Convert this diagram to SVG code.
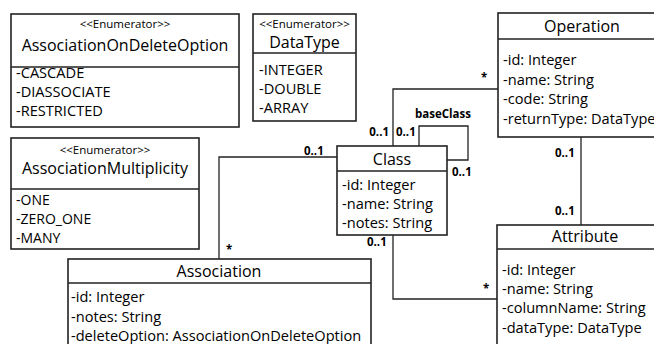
<svg xmlns="http://www.w3.org/2000/svg" width="654" height="344" viewBox="0 0 654 344">
  <style>
    .box { fill: #ffffff; stroke: #222222; stroke-width: 1.6; }
    .div { stroke: #222222; stroke-width: 1.6; }
    .wire { fill: none; stroke: #222222; stroke-width: 1.3; }
    text { font-family: "Open Sans", "Noto Sans", "DejaVu Sans", sans-serif; fill: #000000; }
    .stereo { font-size: 11.5px; text-anchor: middle; }
    .title { font-size: 16px; text-anchor: middle; }
    .item { font-size: 14.6px; }
    .tight { font-size: 14px; }
    .mult { font-size: 11.5px; font-weight: bold; }
  </style>

  <rect width="654" height="344" fill="#ffffff"/>

  <!-- connectors -->
  <g id="connectors">
    <!-- Class to Operation -->
    <polyline class="wire" points="393,146 393,89 498,89"/>
    <text class="mult" x="389" y="136" text-anchor="end">0..1</text>
    <text class="mult" x="481" y="82">*</text>
    <!-- Class self association -->
    <polyline class="wire" points="419,146 419,126 468,126 468,160 447,160"/>
    <text class="mult" x="443" y="118" text-anchor="middle">baseClass</text>
    <text class="mult" x="396" y="136">0..1</text>
    <text class="mult" x="452" y="176">0..1</text>
    <!-- Class to Association -->
    <polyline class="wire" points="337,157 219,157 219,259"/>
    <text class="mult" x="304" y="155">0..1</text>
    <text class="mult" x="226" y="254">*</text>
    <!-- Operation to Attribute -->
    <line class="wire" x1="581" y1="137" x2="581" y2="225"/>
    <text class="mult" x="555" y="157">0..1</text>
    <text class="mult" x="555" y="215">0..1</text>
    <!-- Class to Attribute -->
    <polyline class="wire" points="393,235 393,299 497,299"/>
    <text class="mult" x="367" y="246">0..1</text>
    <text class="mult" x="483" y="293">*</text>
  </g>

  <g id="AssociationOnDeleteOption">
    <rect class="box" x="11" y="14" width="228" height="113"/>
    <line class="div" x1="11" y1="67" x2="239" y2="67"/>
    <text class="stereo" x="125" y="28">&lt;&lt;Enumerator&gt;&gt;</text>
    <text class="title" x="125" y="51">AssociationOnDeleteOption</text>
    <text class="item" x="16" y="78">-CASCADE</text>
    <text class="item" x="16" y="97">-DIASSOCIATE</text>
    <text class="item" x="16" y="116">-RESTRICTED</text>
  </g>

  <g id="DataType">
    <rect class="box" x="253" y="14" width="103" height="107"/>
    <line class="div" x1="253" y1="53" x2="356" y2="53"/>
    <text class="stereo" x="304.5" y="28">&lt;&lt;Enumerator&gt;&gt;</text>
    <text class="title" x="304.5" y="48">DataType</text>
    <text class="item" x="259" y="75">-INTEGER</text>
    <text class="item" x="259" y="94">-DOUBLE</text>
    <text class="item" x="259" y="113">-ARRAY</text>
  </g>

  <g id="Operation">
    <rect class="box" x="498" y="13" width="170" height="124"/>
    <line class="div" x1="498" y1="39" x2="668" y2="39"/>
    <text class="title" x="582" y="32">Operation</text>
    <text class="item" x="503" y="65">-id: Integer</text>
    <text class="item" x="503" y="85">-name: String</text>
    <text class="item" x="503" y="104">-code: String</text>
    <text class="item" x="503" y="124">-returnType: DataType</text>
  </g>

  <g id="AssociationMultiplicity">
    <rect class="box" x="11" y="138" width="188" height="111"/>
    <line class="div" x1="11" y1="189" x2="199" y2="189"/>
    <text class="stereo" x="105" y="154">&lt;&lt;Enumerator&gt;&gt;</text>
    <text class="title" x="105" y="174">AssociationMultiplicity</text>
    <text class="tight" x="16" y="205">-ONE</text>
    <text class="tight" x="16" y="224">-ZERO_ONE</text>
    <text class="tight" x="16" y="243">-MANY</text>
  </g>

  <g id="Class">
    <rect class="box" x="337" y="146" width="110" height="89"/>
    <line class="div" x1="337" y1="171" x2="447" y2="171"/>
    <text class="title" x="392" y="165">Class</text>
    <text class="item" x="342" y="190">-id: Integer</text>
    <text class="item" x="342" y="209">-name: String</text>
    <text class="item" x="342" y="228">-notes: String</text>
  </g>

  <g id="Association">
    <rect class="box" x="68" y="259" width="303" height="95"/>
    <line class="div" x1="68" y1="283" x2="371" y2="283"/>
    <text class="title" x="219" y="277">Association</text>
    <text class="item" x="71" y="302">-id: Integer</text>
    <text class="item" x="71" y="322">-notes: String</text>
    <text class="item" x="71" y="341">-deleteOption: AssociationOnDeleteOption</text>
  </g>

  <g id="Attribute">
    <rect class="box" x="497" y="225" width="173" height="129"/>
    <line class="div" x1="497" y1="249" x2="670" y2="249"/>
    <text class="title" x="585" y="242">Attribute</text>
    <text class="item" x="502" y="275">-id: Integer</text>
    <text class="item" x="502" y="294">-name: String</text>
    <text class="item" x="502" y="313">-columnName: String</text>
    <text class="item" x="502" y="333">-dataType: DataType</text>
  </g>
</svg>
